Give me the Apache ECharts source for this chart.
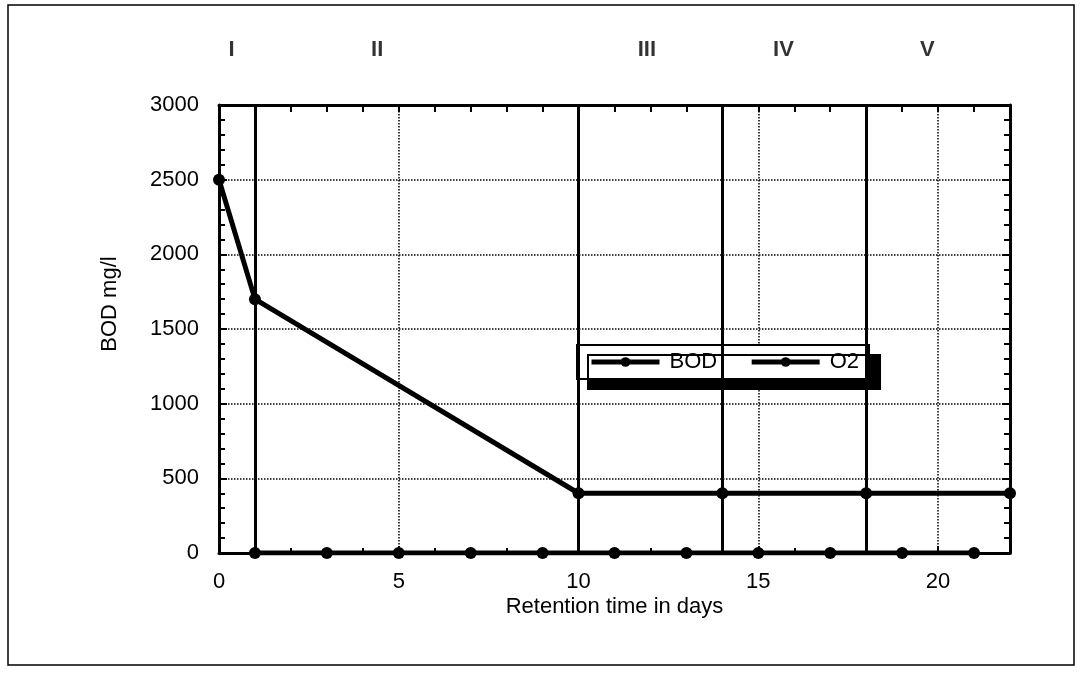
<!DOCTYPE html>
<html>
<head>
<meta charset="utf-8">
<script src="https://cdn.jsdelivr.net/npm/echarts@6/dist/echarts.min.js"></script>
<style>
  html, body { margin: 0; padding: 0; background: #fff; }
  #chart { width: 1081px; height: 683px; }
</style>
</head>
<body>
<div id="chart"></div>
<script>
// BOD in mg/l against retention time (days)
var bodData = [[0, 2500], [1, 1700], [10, 400], [14, 400], [18, 400], [22, 400]];
// O2 points all sit on the zero line
var o2Data = [[1, 0], [3, 0], [5, 0], [7, 0], [9, 0], [11, 0], [13, 0], [15, 0], [17, 0], [19, 0], [21, 0]];
// phase boundaries (solid vertical lines)
var phaseBounds = [1, 10, 14, 18];
// phase labels above the plot, placed at a day value
var phaseNames = ['I', 'II', 'III', 'IV', 'V'];
var phaseAt = [0.35, 4.4, 11.9, 15.7, 19.7];

var fontName = '"Liberation Sans", Arial, sans-serif';

const buildOption = () => {
    return {
        backgroundColor: '#fff',
        animation: false,
        textStyle: { fontFamily: fontName, color: '#000' },
        graphic: [
            {
                type: 'rect',
                shape: { x: 8, y: 5, width: 1066, height: 660 },
                style: { fill: null, stroke: '#000', lineWidth: 1.5 },
                silent: true
            }
        ],
        grid: { left: 219, right: 71, top: 105, bottom: 130 },
        legend: {
            data: ['BOD', 'O2'],
            left: 577,
            top: 345,
            orient: 'horizontal',
            backgroundColor: '#fff',
            borderColor: '#000',
            borderWidth: 2,
            borderRadius: 0,
            padding: [6, 10, 6, 12],
            itemGap: 32,
            itemWidth: 68,
            itemHeight: 12,
            shadowColor: '#000',
            shadowBlur: 0,
            shadowOffsetX: 11,
            shadowOffsetY: 10,
            lineStyle: { width: 5 },
            textStyle: { fontSize: 22, color: '#000', fontFamily: fontName, padding: [0, 0, 0, 5] },
            selectedMode: false
        },
        xAxis: [
            {
                type: 'value',
                min: 0,
                max: 22,
                interval: 5,
                position: 'bottom',
                name: 'Retention time in days',
                nameLocation: 'middle',
                nameGap: 43,
                nameMoveOverlap: false,
                nameTextStyle: { fontSize: 22, color: '#000' },
                axisLine: { show: true, onZero: false, lineStyle: { color: '#000', width: 3 } },
                axisTick: { show: true, inside: true, length: 7, lineStyle: { width: 2, color: '#000' } },
                minorTick: { show: true, splitNumber: 5, length: 5, lineStyle: { width: 2, color: '#000' } },
                axisLabel: { fontSize: 22, color: '#000', margin: 18, showMaxLabel: false, formatter: v => String(v) },
                splitLine: { show: true, lineStyle: { type: 'dotted', color: '#000', width: 1.5 } }
            },
            {
                type: 'value',
                min: 0,
                max: 22,
                interval: 1,
                position: 'top',
                axisLine: { show: true, onZero: false, lineStyle: { color: '#000', width: 3 } },
                axisTick: { show: true, inside: true, length: 7, lineStyle: { width: 2, color: '#000' } },
                axisLabel: { show: false },
                splitLine: { show: false }
            }
        ],
        yAxis: [
            {
                type: 'value',
                min: 0,
                max: 3000,
                interval: 500,
                position: 'left',
                name: 'BOD mg/l',
                nameLocation: 'middle',
                nameGap: 98,
                nameRotate: 90,
                nameMoveOverlap: false,
                nameTextStyle: { fontSize: 22, color: '#000', padding: [0, 0, 0, 50] },
                axisLine: { show: true, onZero: false, lineStyle: { color: '#000', width: 3 } },
                axisTick: { show: true, inside: true, length: 8, lineStyle: { width: 2, color: '#000' } },
                minorTick: { show: true, splitNumber: 5, length: 6, lineStyle: { width: 2, color: '#000' } },
                axisLabel: { fontSize: 22, color: '#000', margin: 20, formatter: v => String(v) },
                splitLine: { show: true, lineStyle: { type: 'dotted', color: '#000', width: 1.5 } }
            },
            {
                type: 'value',
                min: 0,
                max: 3000,
                interval: 500,
                position: 'right',
                axisLine: { show: true, onZero: false, lineStyle: { color: '#000', width: 3 } },
                axisTick: { show: true, inside: true, length: 8, lineStyle: { width: 2, color: '#000' } },
                minorTick: { show: true, splitNumber: 5, length: 6, lineStyle: { width: 2, color: '#000' } },
                axisLabel: { show: false },
                splitLine: { show: false }
            }
        ],
        series: [
            {
                name: 'BOD',
                type: 'line',
                data: bodData,
                symbol: 'circle',
                symbolSize: 12,
                lineStyle: { color: '#000', width: 5 },
                itemStyle: { color: '#000' },
                z: 5,
                markLine: {
                    silent: true,
                    symbol: 'none',
                    label: { show: false },
                    lineStyle: { color: '#000', width: 3, type: 'solid' },
                    data: phaseBounds.map(v => ({ xAxis: v }))
                }
            },
            {
                name: 'O2',
                type: 'line',
                data: o2Data,
                symbol: 'circle',
                symbolSize: 12,
                lineStyle: { color: '#000', width: 5 },
                itemStyle: { color: '#000' },
                z: 5
            },
            {
                name: 'phases',
                type: 'scatter',
                data: phaseAt.map((d, i) => ({ value: [d, 3000], name: phaseNames[i] })),
                symbolSize: 0,
                silent: true,
                label: {
                    show: true,
                    position: 'top',
                    distance: 44,
                    formatter: p => p.name,
                    fontSize: 22,
                    fontWeight: 'bold',
                    color: '#000',
                    fontFamily: '"Liberation Sans Narrow", "Liberation Sans", Arial, sans-serif'
                }
            }
        ]
    };
};

window.addEventListener('load', () => {
    const chart = echarts.init(document.getElementById('chart'));
    chart.setOption(buildOption());
});
</script>
</body>
</html>
